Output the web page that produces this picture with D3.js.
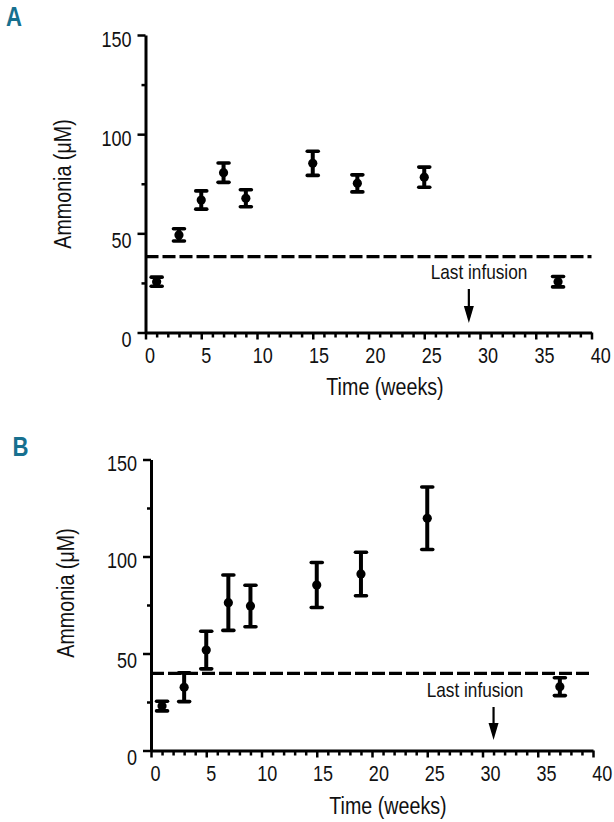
<!DOCTYPE html>
<html>
<head>
<meta charset="utf-8">
<script src="https://cdn.jsdelivr.net/npm/d3@7"></script>
<style>
  html, body { margin: 0; padding: 0; background: #fff; }
  svg { display: block; }
  text { font-family: "Liberation Sans", Arial, sans-serif; }
</style>
</head>
<body>
<svg id="chart" width="614" height="822"></svg>
<script>
// ---- data ----
const weeksA = [1, 3, 5, 7, 9, 15, 19, 25, 37];
const meanA  = [25.6, 49.2, 66.8, 80.6, 67.7, 85.3, 75.2, 78.3, 25.6];
const errA   = [2.3, 3.1, 4.6, 4.9, 4.3, 6.1, 4.3, 5.1, 2.6];
const refA = 38.3;
const lastInfusionA = 29;

const weeksB = [1, 3, 5, 7, 9, 15, 19, 25, 37];
const meanB  = [22.9, 32.6, 51.8, 76.2, 74.5, 85.3, 91.0, 119.7, 32.9];
const errB   = [2.5, 7.4, 9.7, 14.3, 10.7, 11.6, 11.2, 16.1, 4.6];
const refB = 39.8;
const lastInfusionB = 31;

const xMajorTicks = [0, 5, 10, 15, 20, 25, 30, 35, 40];
const yMajorTicks = [0, 50, 100, 150];
const yMinorTicks = [25, 75, 125];
const xLabel = "Time (weeks)";
const yLabel = "Ammonia (\u03BCM)";
const noteLabel = "Last infusion";
const panelLabels = ["A", "B"];

// ---- layout ----
const panels = [
  { label: panelLabels[0], weeks: weeksA, mean: meanA, err: errA, ref: refA, last: lastInfusionA,
    xr: [145.5, 591.5], yr: [332.5, 35], lab: [6, 26.5],
    ytitle: [71, 184], xtitle: [385, 395], note: [479, 279], arrow: [289, 323] },
  { label: panelLabels[1], weeks: weeksB, mean: meanB, err: errB, ref: refB, last: lastInfusionB,
    xr: [151, 593], yr: [750.5, 459.5], lab: [12.5, 456],
    ytitle: [74, 593], xtitle: [388, 814], note: [475, 697], arrow: [707, 740] }
];

const SX = 0.82; // horizontal compression to mimic a narrow sans face
function narrow(sel) {
  sel.each(function () {
    const t = d3.select(this);
    const x = +t.attr("x") || 0, y = +t.attr("y") || 0;
    const prev = t.attr("transform") || "";
    t.attr("transform", `${prev} translate(${x},${y}) scale(${SX},1) translate(${-x},${-y})`);
  });
}

const svg = d3.select("#chart");
const ink = "#000";

panels.forEach(p => {
  const g = svg.append("g");
  const x = d3.scaleLinear().domain([0, 40]).range(p.xr);
  const y = d3.scaleLinear().domain([0, 150]).range(p.yr);

  // panel label
  g.append("text").attr("x", p.lab[0]).attr("y", p.lab[1])
    .attr("font-size", 27).attr("font-weight", "bold").attr("fill", "#17708f")
    .text(p.label).call(narrow);

  // x minor ticks
  const xMinor = d3.range(0, 41).filter(v => v % 5 !== 0);
  const gxMinor = g.append("g").attr("transform", `translate(0,${y(0)})`)
    .call(d3.axisBottom(x).tickValues(xMinor).tickSize(5).tickSizeOuter(0).tickFormat(""));
  gxMinor.select(".domain").remove();
  gxMinor.selectAll(".tick line").attr("stroke", ink).attr("stroke-width", 2.5);

  // x major axis
  const gx = g.append("g").attr("transform", `translate(0,${y(0)})`)
    .call(d3.axisBottom(x).tickValues(xMajorTicks).tickSize(7).tickSizeOuter(0).tickPadding(8));
  gx.select(".domain").attr("stroke", ink).attr("stroke-width", 3);
  gx.selectAll(".tick line").attr("stroke", ink).attr("stroke-width", 2.5);
  gx.selectAll(".tick text").attr("font-size", 22).attr("fill", "#111")
    .attr("x", d => 4 + d * 0.12).call(narrow);

  // y minor ticks
  const gyMinor = g.append("g").attr("transform", `translate(${x(0)},0)`)
    .call(d3.axisLeft(y).tickValues(yMinorTicks).tickSize(4).tickSizeOuter(0).tickFormat(""));
  gyMinor.select(".domain").remove();
  gyMinor.selectAll(".tick line").attr("stroke", ink).attr("stroke-width", 2.5);

  // y major axis
  const gy = g.append("g").attr("transform", `translate(${x(0)},0)`)
    .call(d3.axisLeft(y).tickValues(yMajorTicks).tickSize(8).tickSizeOuter(0).tickPadding(6));
  gy.select(".domain").attr("stroke", ink).attr("stroke-width", 3);
  gy.selectAll(".tick line").attr("stroke", ink).attr("stroke-width", 2.5);
  gy.selectAll(".tick text").attr("font-size", 22).attr("fill", "#111")
    .attr("dy", null).attr("y", d => (d <= 50 ? 14 : 11) - 4 + 8 - 4 + (d <= 50 ? 0 : 0))
    .call(narrow);

  // axis titles
  g.append("text")
    .attr("transform", `translate(${p.ytitle[0]},${p.ytitle[1]}) rotate(-90) scale(${SX},1)`)
    .attr("text-anchor", "middle").attr("font-size", 24).attr("fill", "#111")
    .text(yLabel);
  g.append("text").attr("x", p.xtitle[0]).attr("y", p.xtitle[1])
    .attr("text-anchor", "middle").attr("font-size", 24).attr("fill", "#111")
    .text(xLabel).call(narrow);

  // reference dashed line
  g.append("line")
    .attr("x1", x(0)).attr("x2", x(40))
    .attr("y1", y(p.ref)).attr("y2", y(p.ref))
    .attr("stroke", ink).attr("stroke-width", 3.2).attr("stroke-dasharray", "13,4");

  // error bars
  const data = p.weeks.map((w, i) => ({ w, m: p.mean[i], e: p.err[i] }));
  const eb = g.append("g").selectAll("g").data(data).join("g");
  eb.append("line")
    .attr("x1", d => x(d.w)).attr("x2", d => x(d.w))
    .attr("y1", d => y(d.m + d.e)).attr("y2", d => y(d.m - d.e))
    .attr("stroke", ink).attr("stroke-width", 4);
  [1, -1].forEach(s => {
    eb.append("line")
      .attr("x1", d => x(d.w) - 5.5).attr("x2", d => x(d.w) + 5.5)
      .attr("y1", d => y(d.m + s * d.e)).attr("y2", d => y(d.m + s * d.e))
      .attr("stroke", ink).attr("stroke-width", 3.6).attr("stroke-linecap", "round");
  });
  eb.append("circle")
    .attr("cx", d => x(d.w)).attr("cy", d => y(d.m)).attr("r", 4.6).attr("fill", ink);

  // last infusion annotation
  g.append("text").attr("x", p.note[0]).attr("y", p.note[1])
    .attr("text-anchor", "middle").attr("font-size", 21).attr("fill", "#111")
    .text(noteLabel).call(narrow);
  const ax = x(p.last);
  g.append("line").attr("x1", ax).attr("x2", ax)
    .attr("y1", p.arrow[0]).attr("y2", p.arrow[1] - 10)
    .attr("stroke", ink).attr("stroke-width", 2.2);
  g.append("path")
    .attr("d", `M${ax - 5},${p.arrow[1] - 17} L${ax + 5},${p.arrow[1] - 17} L${ax},${p.arrow[1]} Z`)
    .attr("fill", ink);
});
</script>
</body>
</html>
